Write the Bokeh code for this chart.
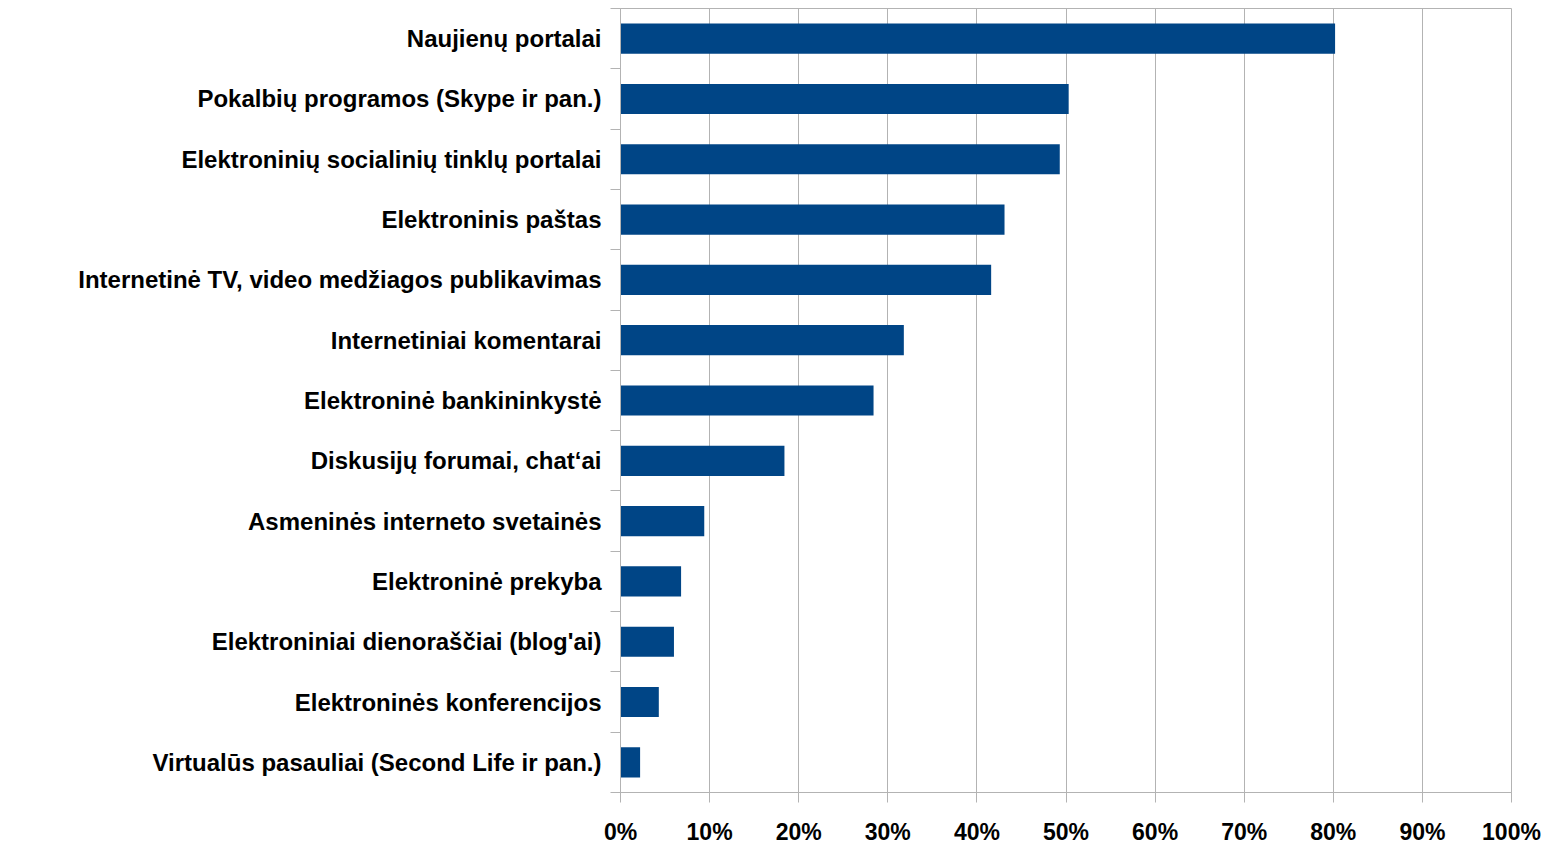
from bokeh.plotting import figure
from bokeh.models import ColumnDataSource, Range1d, FixedTicker, CustomJSTickFormatter
from bokeh.embed import file_html
from bokeh.resources import INLINE

categories = [
    "Naujienų portalai",
    "Pokalbių programos (Skype ir pan.)",
    "Elektroninių socialinių tinklų portalai",
    "Elektroninis paštas",
    "Internetinė TV, video medžiagos publikavimas",
    "Internetiniai komentarai",
    "Elektroninė bankininkystė",
    "Diskusijų forumai, chat‘ai",
    "Asmeninės interneto svetainės",
    "Elektroninė prekyba",
    "Elektroniniai dienoraščiai (blog'ai)",
    "Elektroninės konferencijos",
    "Virtualūs pasauliai (Second Life ir pan.)",
]
values = [80.2, 50.3, 49.3, 43.1, 41.6, 31.8, 28.4, 18.4, 9.4, 6.8, 6.0, 4.3, 2.2]
x_ticks = [0, 10, 20, 30, 40, 50, 60, 70, 80, 90, 100]

n = len(categories)
centers = [n - i - 0.5 for i in range(n)]
boundaries = list(range(n + 1))

src = ColumnDataSource(dict(cat=categories, val=values, y=centers))

GRAY = "#b3b3b3"
FONT = "Liberation Sans"

p = figure(width=1545, height=847, output_backend="svg", toolbar_location=None,
           x_range=Range1d(0, 100), y_range=Range1d(0, n),
           min_border_left=620, min_border_right=34, min_border_top=8, min_border_bottom=46)

p.hbar(y="y", left=0, right="val", height=0.5, source=src, color="#004586", line_color=None)

p.outline_line_color = GRAY
p.background_fill_color = "white"
p.border_fill_color = "white"

# x axis
p.xaxis.ticker = FixedTicker(ticks=x_ticks)
p.xaxis.formatter = CustomJSTickFormatter(code="return tick.toFixed(0) + '%';")
p.xaxis.axis_line_color = GRAY
p.xaxis.major_tick_line_color = GRAY
p.xaxis.major_tick_out = 10
p.xaxis.major_tick_in = 0
p.xaxis.minor_tick_line_color = None
p.xaxis.major_label_standoff = 16
p.xaxis.major_label_text_font = FONT
p.xaxis.major_label_text_font_style = "bold"
p.xaxis.major_label_text_font_size = "23px"
p.xaxis.major_label_text_color = "black"

# y axis
p.yaxis.ticker = FixedTicker(ticks=centers, minor_ticks=boundaries)
p.yaxis.major_label_overrides = {c: lab for c, lab in zip(centers, categories)}
p.yaxis.axis_line_color = GRAY
p.yaxis.major_tick_line_color = None
p.yaxis.major_tick_out = 0
p.yaxis.major_tick_in = 0
p.yaxis.minor_tick_line_color = GRAY
p.yaxis.minor_tick_out = 10
p.yaxis.minor_tick_in = 0
p.yaxis.major_label_standoff = 9
p.yaxis.major_label_text_font = FONT
p.yaxis.major_label_text_font_style = "bold"
p.yaxis.major_label_text_font_size = "24px"
p.yaxis.major_label_text_color = "black"

p.xgrid.grid_line_color = GRAY
p.xgrid.ticker = FixedTicker(ticks=x_ticks)
p.ygrid.grid_line_color = None

open("out.html", "w").write(file_html(p, INLINE))
